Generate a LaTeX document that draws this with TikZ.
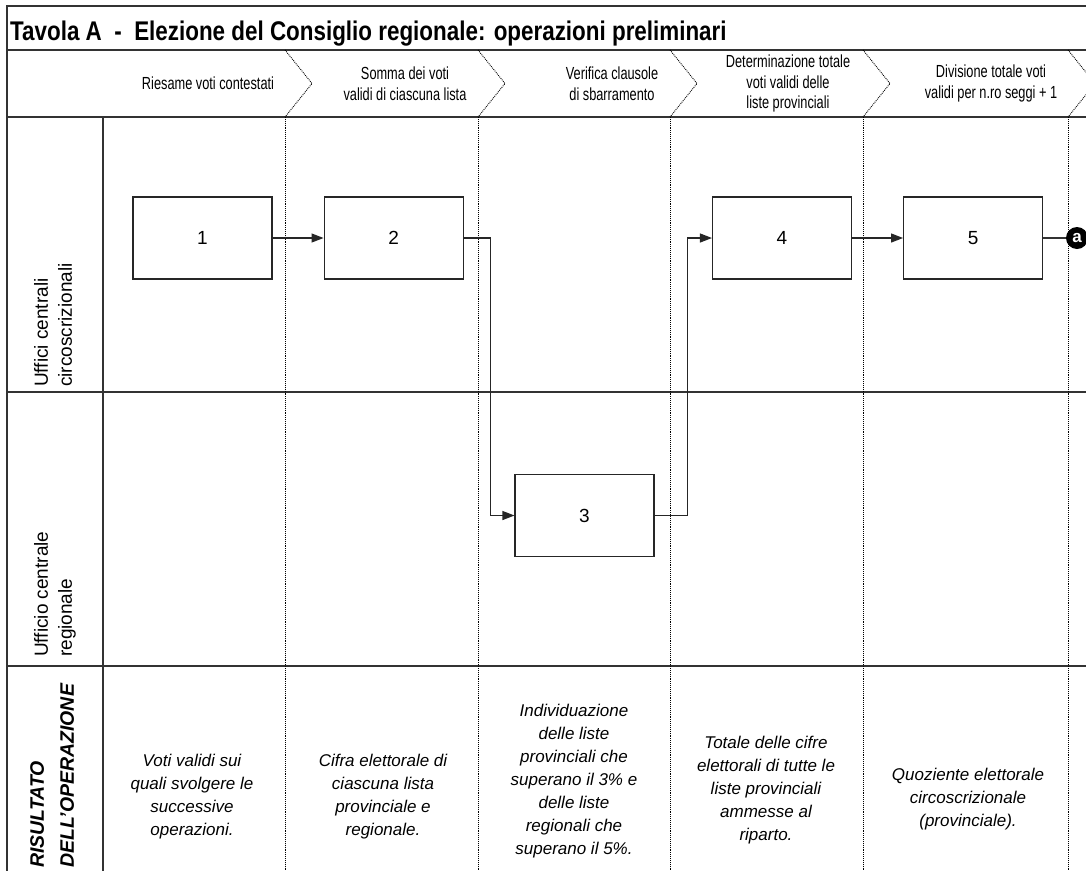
\documentclass[tikz,border=0pt]{standalone}
\usepackage{fontspec}
\setmainfont{Liberation Sans}
\newfontfamily\titolofont[FakeStretch=0.83]{Liberation Sans}
\newfontfamily\testatafont[FakeStretch=0.73]{Liberation Sans}
\usetikzlibrary{arrows.meta,positioning}

\begin{document}
\begin{tikzpicture}[x=1pt,y=-1pt,
  linea/.style={line width=1.1pt,black!80},
  colonna/.style={densely dotted,line width=0.9pt},
  blocco/.style={draw,black!85,text=black,line width=1.1pt,minimum width=139pt,minimum height=82pt,inner sep=0pt,font=\fontsize{19}{23}\selectfont},
  freccia/.style={line width=1.1pt,black!85,-{Triangle[length=12pt,width=9pt]}},
  testata/.style={align=center,inner sep=0pt,font=\testatafont\fontsize{17.5}{20.5}\selectfont},
  corsia/.style={rotate=90,anchor=north west,align=left,inner sep=0pt,font=\fontsize{19}{24}\selectfont},
  esito/.style={align=center,inner sep=0pt,font=\itshape\fontsize{17}{23}\selectfont}]
\useasboundingbox (0,0) rectangle (1086,871);
\fill[white] (0,0) rectangle (1086,871);
\draw[linea] (1086,6) -- (7,6) -- (7,871);
\draw[linea] (7,50) -- (1086,50);
\draw[linea] (7,117) -- (1086,117);
\draw[linea] (7,392) -- (1086,392);
\draw[linea] (7,666) -- (1086,666);
\draw[linea] (103,117) -- (103,871);
\foreach \x in {285,478,670,863,1068} {
  \draw[colonna] (\x,50) -- (\x+27,83.5) -- (\x,117);
  \draw[colonna] (\x,117) -- (\x,871);
}
\node[anchor=base west,inner sep=0pt,font=\titolofont\bfseries\fontsize{27}{30}\selectfont] (titolo) at (10,40) {Tavola A\ \ -\ \ Elezione del Consiglio regionale: operazioni preliminari};
\node[testata] (fase1) at (208,83.5) {Riesame voti contestati};
\node[testata] (fase2) at (405,83.5) {Somma dei voti\\validi di ciascuna lista};
\node[testata] (fase3) at (612,83.5) {Verifica clausole\\di sbarramento};
\node[testata] (fase4) at (788,83.5) {Determinazione totale\\voti validi delle\\liste provinciali};
\node[testata] (fase5) at (991,83.5) {Divisione totale voti\\validi per n.ro seggi + 1};
\node[corsia] (uffcirc) at (34,387) {Uffici centrali\\circoscrizionali};
\node[corsia] (uffreg) at (34,657) {Ufficio centrale\\regionale};
\node[corsia,font=\bfseries\itshape\fontsize{19.5}{30}\selectfont] (risultato) at (30,868) {RISULTATO\\DELL'OPERAZIONE};
\node[blocco] (box1) at (202.5,238) {1};
\node[blocco,right=51pt of box1] (box2) {2};
\node[blocco] (box3) at (584.5,515.5) {3};
\node[blocco] (box4) at (782,238) {4};
\node[blocco,right=51pt of box4] (box5) {5};
\node[circle,fill=black,text=white,inner sep=0pt,minimum size=22pt,font=\bfseries\fontsize{17}{17}\selectfont] (conn) at (1077,238) {a};
\draw[freccia] (box1) -- (box2);
\draw[freccia] (box2.east) -- ++(27,0) |- (box3.west);
\draw[freccia] (box3.east) -- ++(33,0) |- (box4.west);
\draw[freccia] (box4) -- (box5);
\draw[linea] (box5) -- (conn);
\node[esito] (esito1) at (192,797) {Voti validi sui\\quali svolgere le\\successive\\operazioni.};
\node[esito] (esito2) at (383,797) {Cifra elettorale di\\ciascuna lista\\provinciale e\\regionale.};
\node[esito] (esito3) at (574,781) {Individuazione\\delle liste\\provinciali che\\superano il 3\% e\\delle liste\\regionali che\\superano il 5\%.};
\node[esito] (esito4) at (766,790) {Totale delle cifre\\elettorali di tutte le\\liste provinciali\\ammesse al\\riparto.};
\node[esito] (esito5) at (968,799) {Quoziente elettorale\\circoscrizionale\\(provinciale).};
\end{tikzpicture}
\end{document}
